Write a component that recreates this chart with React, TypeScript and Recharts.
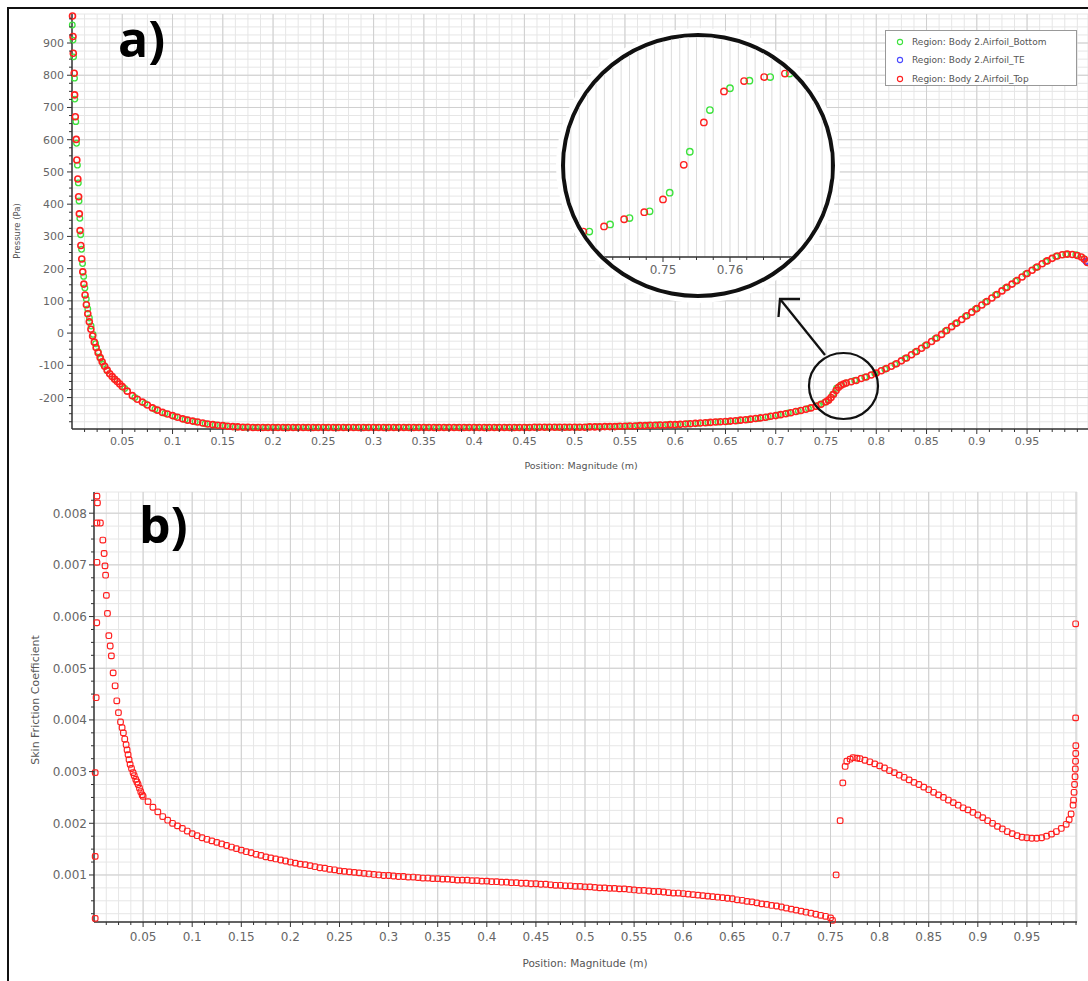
import React from "react";
import {
  CartesianGrid,
  Legend,
  ReferenceLine,
  Scatter,
  ScatterChart,
  XAxis,
  YAxis,
} from "recharts";

// ---- panel a) pressure along the airfoil, position (m) / pressure (Pa)
const pressureBottom: [number, number][] = [
  [0.0003, 956], [0.001, 909], [0.0016, 857], [0.0025, 791], [0.0028, 726], [0.0038, 656],
  [0.0045, 589], [0.0054, 521], [0.0063, 466], [0.007, 410], [0.0078, 356], [0.0086, 305],
  [0.0095, 260], [0.0105, 216], [0.0116, 176], [0.0128, 140], [0.0142, 106], [0.0157, 75],
  [0.0173, 47], [0.019, 22], [0.021, -4], [0.0235, -33], [0.026, -58], [0.0285, -79],
  [0.031, -97], [0.035, -117], [0.0425, -143], [0.0525, -172], [0.0625, -200], [0.0725, -218],
  [0.0825, -236], [0.0925, -249], [0.1025, -259], [0.1125, -268], [0.1225, -275], [0.1325, -281],
  [0.1425, -285], [0.1525, -288], [0.1625, -291], [0.1725, -292], [0.1825, -293], [0.1925, -293],
  [0.2025, -293], [0.2125, -293], [0.2225, -293], [0.2325, -293], [0.2425, -293], [0.2525, -293],
  [0.2625, -293], [0.2725, -293], [0.2825, -293], [0.2925, -293], [0.3025, -293], [0.3125, -293],
  [0.3225, -293], [0.3325, -293], [0.3425, -293], [0.3525, -293], [0.3625, -293], [0.3725, -293],
  [0.3825, -293], [0.3925, -293], [0.4025, -293], [0.4125, -293], [0.4225, -293], [0.4325, -293],
  [0.4425, -293], [0.4525, -293], [0.4625, -292], [0.4725, -292], [0.4825, -292], [0.4925, -292],
  [0.5025, -292], [0.5125, -291], [0.5225, -290], [0.5325, -290], [0.5425, -289], [0.5525, -288],
  [0.5625, -287], [0.5725, -286], [0.5825, -285], [0.5925, -284], [0.6025, -283], [0.6125, -281],
  [0.6225, -280], [0.6325, -278], [0.6425, -276], [0.6525, -274], [0.6625, -272], [0.6725, -269],
  [0.6825, -265], [0.6925, -260], [0.7025, -254], [0.7125, -248], [0.7225, -242], [0.7325, -234],
  [0.7425, -224], [0.7485, -215], [0.7525, -207], [0.7565, -190], [0.7605, -171], [0.7645, -162],
  [0.7705, -155], [0.7785, -147], [0.7885, -137], [0.7985, -125], [0.8085, -112], [0.8185, -97],
  [0.8285, -79], [0.8385, -59], [0.8485, -39], [0.8585, -17], [0.8685, 6], [0.8785, 29],
  [0.8885, 52], [0.8985, 74], [0.9085, 96], [0.9185, 118], [0.9285, 140], [0.9385, 161],
  [0.9485, 183], [0.9585, 203], [0.9685, 222], [0.9785, 238], [0.9885, 245], [0.9985, 243],
  [1.0065, 231],
];

const pressureTE: [number, number][] = [[1.0085, 223], [1.009, 222]];

const pressureTop: [number, number][] = [
  [0.0005, 984], [0.001, 920], [0.0013, 868], [0.0022, 806], [0.0026, 739], [0.0033, 671],
  [0.0042, 601], [0.0048, 537], [0.0058, 478], [0.0066, 423], [0.0073, 370], [0.008, 318],
  [0.0088, 272], [0.0097, 230], [0.0107, 190], [0.0118, 152], [0.013, 118], [0.0143, 88],
  [0.0157, 60], [0.0172, 35], [0.0188, 12], [0.0205, -9], [0.0222, -28], [0.024, -45],
  [0.026, -61], [0.028, -76], [0.03, -89], [0.0325, -103], [0.035, -115], [0.0375, -126],
  [0.04, -135], [0.0425, -143], [0.045, -150], [0.0475, -158], [0.05, -166], [0.055, -180],
  [0.06, -194], [0.065, -205], [0.07, -214], [0.075, -223], [0.08, -232], [0.085, -239],
  [0.09, -246], [0.095, -251], [0.1, -256], [0.105, -261], [0.11, -266], [0.115, -270],
  [0.12, -273], [0.125, -276], [0.13, -279], [0.135, -282], [0.14, -284], [0.145, -286],
  [0.15, -287], [0.155, -289], [0.16, -290], [0.165, -291], [0.17, -292], [0.175, -292],
  [0.18, -293], [0.185, -293], [0.19, -293], [0.195, -293], [0.2, -293], [0.205, -293],
  [0.21, -293], [0.215, -293], [0.22, -293], [0.225, -293], [0.23, -293], [0.235, -293],
  [0.24, -293], [0.245, -293], [0.25, -293], [0.255, -293], [0.26, -293], [0.265, -293],
  [0.27, -293], [0.275, -293], [0.28, -293], [0.285, -293], [0.29, -293], [0.295, -293],
  [0.3, -293], [0.305, -293], [0.31, -293], [0.315, -293], [0.32, -293], [0.325, -293],
  [0.33, -293], [0.335, -293], [0.34, -293], [0.345, -293], [0.35, -293], [0.355, -293],
  [0.36, -293], [0.365, -293], [0.37, -293], [0.375, -293], [0.38, -293], [0.385, -293],
  [0.39, -293], [0.395, -293], [0.4, -293], [0.405, -293], [0.41, -293], [0.415, -293],
  [0.42, -293], [0.425, -293], [0.43, -293], [0.435, -293], [0.44, -293], [0.445, -293],
  [0.45, -293], [0.455, -293], [0.46, -292], [0.465, -292], [0.47, -292], [0.475, -292],
  [0.48, -292], [0.485, -292], [0.49, -292], [0.495, -292], [0.5, -292], [0.505, -292],
  [0.51, -292], [0.515, -291], [0.52, -291], [0.525, -291], [0.53, -290], [0.535, -290],
  [0.54, -290], [0.545, -289], [0.55, -289], [0.555, -288], [0.56, -288], [0.565, -287],
  [0.57, -287], [0.575, -286], [0.58, -286], [0.585, -285], [0.59, -285], [0.595, -284],
  [0.6, -284], [0.605, -283], [0.61, -282], [0.615, -281], [0.62, -280], [0.625, -279],
  [0.63, -278], [0.635, -277], [0.64, -276], [0.645, -275], [0.65, -274], [0.655, -273],
  [0.66, -272], [0.665, -270], [0.67, -269], [0.675, -267], [0.68, -265], [0.685, -263],
  [0.69, -261], [0.695, -258], [0.7, -256], [0.705, -253], [0.71, -250], [0.715, -247],
  [0.72, -243], [0.725, -240], [0.73, -236], [0.735, -232], [0.74, -227], [0.745, -221],
  [0.75, -213], [0.7525, -208], [0.755, -200], [0.7575, -190], [0.76, -178], [0.7625, -168],
  [0.765, -162], [0.7675, -158], [0.77, -155], [0.775, -151], [0.78, -147], [0.785, -141],
  [0.79, -136], [0.795, -130], [0.8, -124], [0.805, -117], [0.81, -110], [0.815, -103],
  [0.82, -95], [0.825, -86], [0.83, -77], [0.835, -67], [0.84, -57], [0.845, -47],
  [0.85, -37], [0.855, -26], [0.86, -15], [0.865, -4], [0.87, 8], [0.875, 20],
  [0.88, 31], [0.885, 42], [0.89, 54], [0.895, 65], [0.9, 76], [0.905, 87],
  [0.91, 98], [0.915, 109], [0.92, 120], [0.925, 131], [0.93, 142], [0.935, 152],
  [0.94, 163], [0.945, 174], [0.95, 185], [0.955, 195], [0.96, 205], [0.965, 215],
  [0.97, 224], [0.975, 232], [0.98, 239], [0.985, 243], [0.99, 245], [0.995, 244],
  [1.0, 241], [1.004, 236], [1.007, 229], [1.01, 219],
];

// zoomed inset around the kink at 0.75
const insetBottom: [number, number][] = [
  [0.739, -199.9], [0.7421, -198.1], [0.745, -196.5], [0.748, -194.8], [0.751, -190.1], [0.754, -179.8],
  [0.757, -169.3], [0.76, -163.8], [0.7629, -161.9], [0.766, -161.0], [0.7689, -160.1],
];
const insetTop: [number, number][] = [
  [0.7381, -199.9], [0.7412, -198.6], [0.7442, -196.8], [0.7472, -195.0], [0.75, -191.8], [0.7531, -183.1],
  [0.7561, -172.4], [0.7591, -164.6], [0.7621, -162.0], [0.7651, -161.0], [0.7682, -160.1],
];

// ---- panel b) skin friction coefficient
const skinFriction: [number, number][] = [
  [0.003, 0.00833], [0.0035, 0.0082], [0.003, 0.00781], [0.0065, 0.00781], [0.009, 0.00748],
  [0.003, 0.00705], [0.0103, 0.00722], [0.0112, 0.00698], [0.0118, 0.0068], [0.0126, 0.00641],
  [0.0137, 0.00606], [0.0028, 0.00588], [0.0151, 0.00563], [0.0165, 0.00543], [0.0177, 0.00524],
  [0.0195, 0.00491], [0.0215, 0.00466], [0.0022, 0.00443], [0.0232, 0.00437], [0.0249, 0.00414],
  [0.027, 0.00396], [0.0286, 0.00385], [0.0299, 0.00375], [0.0313, 0.00363], [0.0327, 0.00352],
  [0.0337, 0.00342], [0.0347, 0.00333], [0.0357, 0.00323], [0.0368, 0.00314], [0.0382, 0.00306],
  [0.0398, 0.00298], [0.0012, 0.00298], [0.041, 0.00292], [0.0425, 0.00285], [0.0437, 0.0028],
  [0.0449, 0.00275], [0.0463, 0.00268], [0.0476, 0.00261], [0.049, 0.00255], [0.0012, 0.00136],
  [0.0012, 0.00016],
  [0.05, 0.00252], [0.055, 0.00242], [0.06, 0.00231], [0.065, 0.00222], [0.07, 0.00213],
  [0.075, 0.00206], [0.08, 0.002], [0.085, 0.00195], [0.09, 0.0019], [0.095, 0.00185],
  [0.1, 0.0018], [0.105, 0.00176], [0.11, 0.00172], [0.115, 0.00169], [0.12, 0.00166],
  [0.125, 0.00163], [0.13, 0.0016], [0.135, 0.00157], [0.14, 0.00154], [0.145, 0.00151],
  [0.15, 0.00148], [0.155, 0.00145], [0.16, 0.00143], [0.165, 0.0014], [0.17, 0.00138],
  [0.175, 0.00135], [0.18, 0.00133], [0.185, 0.00131], [0.19, 0.00129], [0.195, 0.00127],
  [0.2, 0.00125], [0.205, 0.00123], [0.21, 0.00121], [0.215, 0.0012], [0.22, 0.00118],
  [0.225, 0.00116], [0.23, 0.00114], [0.235, 0.00113], [0.24, 0.00111], [0.245, 0.0011],
  [0.25, 0.00108], [0.255, 0.00107], [0.26, 0.00106], [0.265, 0.00105], [0.27, 0.00104],
  [0.275, 0.00103], [0.28, 0.00102], [0.285, 0.00101], [0.29, 0.001], [0.295, 0.00099],
  [0.3, 0.00099], [0.305, 0.00098], [0.31, 0.00097], [0.315, 0.00097], [0.32, 0.00096],
  [0.325, 0.00096], [0.33, 0.00095], [0.335, 0.00094], [0.34, 0.00094], [0.345, 0.00093],
  [0.35, 0.00093], [0.355, 0.00092], [0.36, 0.00092], [0.365, 0.00091], [0.37, 0.0009],
  [0.375, 0.0009], [0.38, 0.0009], [0.385, 0.00089], [0.39, 0.00089], [0.395, 0.00088],
  [0.4, 0.00088], [0.405, 0.00087], [0.41, 0.00087], [0.415, 0.00086], [0.42, 0.00086],
  [0.425, 0.00085], [0.43, 0.00085], [0.435, 0.00084], [0.44, 0.00084], [0.445, 0.00083],
  [0.45, 0.00083], [0.455, 0.00082], [0.46, 0.00082], [0.465, 0.00081], [0.47, 0.0008],
  [0.475, 0.0008], [0.48, 0.00079], [0.485, 0.00079], [0.49, 0.00078], [0.495, 0.00078],
  [0.5, 0.00077], [0.505, 0.00077], [0.51, 0.00076], [0.515, 0.00075], [0.52, 0.00075],
  [0.525, 0.00074], [0.53, 0.00074], [0.535, 0.00073], [0.54, 0.00073], [0.545, 0.00072],
  [0.55, 0.00071], [0.555, 0.0007], [0.56, 0.0007], [0.565, 0.00069], [0.57, 0.00068],
  [0.575, 0.00068], [0.58, 0.00067], [0.585, 0.00066], [0.59, 0.00065], [0.595, 0.00065],
  [0.6, 0.00064], [0.605, 0.00063], [0.61, 0.00062], [0.615, 0.00061], [0.62, 0.0006],
  [0.625, 0.00059], [0.63, 0.00058], [0.635, 0.00057], [0.64, 0.00056], [0.645, 0.00055],
  [0.65, 0.00054], [0.655, 0.00052], [0.66, 0.00051], [0.665, 0.00049], [0.67, 0.00048],
  [0.675, 0.00046], [0.68, 0.00044], [0.685, 0.00043], [0.69, 0.00041], [0.695, 0.0004],
  [0.7, 0.00038], [0.705, 0.00036], [0.71, 0.00034], [0.715, 0.00032], [0.72, 0.0003],
  [0.725, 0.00028], [0.73, 0.00026], [0.735, 0.00024], [0.74, 0.00022], [0.745, 0.0002],
  [0.75, 0.00017], [0.752, 0.00012],
  [0.7557, 0.001], [0.7598, 0.00205], [0.7625, 0.00278], [0.7649, 0.0031], [0.7666, 0.0032],
  [0.77, 0.00324], [0.773, 0.00327], [0.777, 0.00326], [0.78, 0.00325], [0.785, 0.00322],
  [0.79, 0.00319], [0.795, 0.00315], [0.8, 0.00311], [0.805, 0.00307], [0.81, 0.00302],
  [0.815, 0.00298], [0.82, 0.00293], [0.825, 0.00289], [0.83, 0.00284], [0.835, 0.00279],
  [0.84, 0.00275], [0.845, 0.0027], [0.85, 0.00265], [0.855, 0.0026], [0.86, 0.00255],
  [0.865, 0.0025], [0.87, 0.00245], [0.875, 0.0024], [0.88, 0.00235], [0.885, 0.0023],
  [0.89, 0.00226], [0.895, 0.00221], [0.9, 0.00216], [0.905, 0.00211], [0.91, 0.00205],
  [0.915, 0.002], [0.92, 0.00194], [0.925, 0.00189], [0.93, 0.00184], [0.935, 0.0018],
  [0.94, 0.00176], [0.945, 0.00173], [0.95, 0.00172], [0.955, 0.00171], [0.96, 0.00171],
  [0.965, 0.00172], [0.97, 0.00175], [0.975, 0.00179], [0.98, 0.00184], [0.985, 0.0019],
  [0.99, 0.00198], [0.993, 0.00207], [0.995, 0.00218], [0.997, 0.00235], [0.9975, 0.00245],
  [0.998, 0.0026], [0.9985, 0.00275], [0.999, 0.0029], [0.9993, 0.00305], [0.9995, 0.0032],
  [0.9997, 0.00335], [0.9998, 0.0035], [0.9996, 0.00404], [0.9996, 0.00586],
];

// tick labels
const positionLabels = [0.05, 0.1, 0.15, 0.2, 0.25, 0.3, 0.35, 0.4, 0.45, 0.5, 0.55, 0.6, 0.65, 0.7, 0.75, 0.8, 0.85, 0.9, 0.95];
const pressureLabels = [-200, -100, 0, 100, 200, 300, 400, 500, 600, 700, 800, 900];
const frictionLabels = [0.001, 0.002, 0.003, 0.004, 0.005, 0.006, 0.007, 0.008];
const insetLabels = [0.75, 0.76];

const NAME_BOTTOM = "Region: Body 2.Airfoil_Bottom";
const NAME_TE = "Region: Body 2.Airfoil_TE";
const NAME_TOP = "Region: Body 2.Airfoil_Top";

const GREEN = "#3ee23e";
const BLUE = "#4a4aff";
const RED = "#ff2020";
const FONT = "DejaVu Sans, sans-serif";

const toPoints = (rows: [number, number][]) => rows.map(([x, y]) => ({ x, y }));

// evenly spaced tick / grid positions
const steps = (from: number, to: number, step: number) => {
  const out: number[] = [];
  for (let i = 0; from + i * step <= to + step / 2; i++) out.push(+(from + i * step).toFixed(7));
  return out;
};

const inList = (v: number, list: number[]) => list.some((m) => Math.abs(m - v) < 1e-7);

const xTick = (labels: number[], fontSize: number, gap: number, markEvery?: number) => (props: any) => {
  const { x, y, payload } = props;
  const v = payload.value;
  const major = inList(v, labels);
  const marked = markEvery ? Math.abs(v / markEvery - Math.round(v / markEvery)) < 1e-4 : true;
  return (
    <g>
      {marked && <line x1={x} x2={x} y1={y} y2={y + (major ? 5 : 3)} stroke="#333" strokeWidth={1} />}
      {major && (
        <text x={x} y={y + gap} textAnchor="middle" fontSize={fontSize} fill="#666" fontFamily={FONT}>
          {String(v)}
        </text>
      )}
    </g>
  );
};

const yTick = (labels: number[], fontSize: number, gap: number) => (props: any) => {
  const { x, y, payload } = props;
  const v = payload.value;
  const major = inList(v, labels);
  return (
    <g>
      <line x1={x} x2={x - (major ? 5 : 3)} y1={y} y2={y} stroke="#333" strokeWidth={1} />
      {major && (
        <text x={x - gap} y={y} dy="0.36em" textAnchor="end" fontSize={fontSize} fill="#666" fontFamily={FONT}>
          {String(v)}
        </text>
      )}
    </g>
  );
};

const ring = (color: string, r: number, w: number) => (p: any) => (
  <circle cx={p.cx} cy={p.cy} r={r} fill="none" stroke={color} strokeWidth={w} />
);

const square = (color: string) => (p: any) => (
  <rect x={p.cx - 2.8} y={p.cy - 2.8} width={5.6} height={5.6} rx={1.7} fill="none" stroke={color} strokeWidth={1.2} />
);

const LegendBox = (props: any) => {
  const items = props.payload || [];
  return (
    <div
      style={{
        width: 192,
        height: 56,
        border: "1.5px solid #999",
        background: "#fff",
        boxSizing: "border-box",
        padding: "2px 0 0 10px",
        fontFamily: FONT,
        fontSize: 9,
        color: "#555",
      }}
    >
      {items.map((it: any) => (
        <div key={it.value} style={{ display: "flex", alignItems: "center", height: 18.3 }}>
          <svg width={8} height={8} style={{ marginRight: 8 }}>
            <circle cx={4} cy={4} r={2.6} fill="none" stroke={it.color} strokeWidth={1.1} />
          </svg>
          <span>{it.value}</span>
        </div>
      ))}
    </div>
  );
};

const gridMinor = "#e6e6e6";
const gridMajor = "#cfcfcf";
const axisLine = { stroke: "#333", strokeWidth: 1.5 };

const xTicksMain = steps(0.0125, 1.0, 0.0125);
const yTicksPressure = steps(-275, 975, 25);
const yTicksFriction = steps(0.00025, 0.00825, 0.00025);
const xTicksInset = steps(0.73625, 0.775, 0.00125);
const yTicksInset = steps(-205, -152.5, 2.5);

const PressureChart = () => (
  <ScatterChart width={1088} height={480} margin={{ top: 14, right: 0, bottom: 0, left: 22 }}>
    <CartesianGrid stroke={gridMinor} />
    {positionLabels.map((v) => (
      <ReferenceLine key={"vx" + v} x={v} stroke={gridMajor} />
    ))}
    {pressureLabels.map((v) => (
      <ReferenceLine key={"hy" + v} y={v} stroke={gridMajor} />
    ))}
    <XAxis
      type="number"
      dataKey="x"
      domain={[0, 1.0106]}
      ticks={xTicksMain}
      interval={0}
      height={51}
      tickSize={0}
      tickMargin={0}
      tickLine={false}
      axisLine={axisLine}
      tick={xTick(positionLabels, 11, 16)}
    />
    <YAxis
      type="number"
      dataKey="y"
      domain={[-297.5, 990]}
      ticks={yTicksPressure}
      interval={0}
      width={50}
      tickSize={0}
      tickMargin={0}
      tickLine={false}
      axisLine={axisLine}
      tick={yTick(pressureLabels, 11, 8)}
    />
    <Scatter name={NAME_BOTTOM} data={toPoints(pressureBottom)} fill={GREEN} shape={ring(GREEN, 2.8, 1.3)} isAnimationActive={false} />
    <Scatter name={NAME_TE} data={toPoints(pressureTE)} fill={BLUE} shape={ring(BLUE, 2.8, 1.3)} isAnimationActive={false} />
    <Scatter name={NAME_TOP} data={toPoints(pressureTop)} fill={RED} shape={ring(RED, 3, 1.6)} isAnimationActive={false} />
    <Legend
      layout="vertical"
      align="center"
      verticalAlign="middle"
      wrapperStyle={{ top: 30, left: 885, width: 192 }}
      content={LegendBox}
    />
  </ScatterChart>
);

const InsetChart = () => (
  <ScatterChart width={266} height={257} margin={{ top: 0, right: 0, bottom: 0, left: 0 }}>
    <CartesianGrid stroke="#dcdcdc" />
    <XAxis
      type="number"
      dataKey="x"
      domain={[0.735373, 0.775075]}
      ticks={xTicksInset}
      interval={0}
      height={37}
      tickSize={0}
      tickMargin={0}
      tickLine={false}
      axisLine={axisLine}
      tick={xTick(insetLabels, 12, 17, 0.0025)}
    />
    <YAxis
      type="number"
      dataKey="y"
      domain={[-206.3, -150.9]}
      ticks={yTicksInset}
      interval={0}
      width={0}
      tick={false}
      tickLine={false}
      axisLine={false}
    />
    <Scatter data={toPoints(insetBottom)} fill={GREEN} shape={ring(GREEN, 3.2, 1.4)} isAnimationActive={false} />
    <Scatter data={toPoints(insetTop)} fill={RED} shape={ring(RED, 3.2, 1.4)} isAnimationActive={false} />
  </ScatterChart>
);

const FrictionChart = () => (
  <ScatterChart width={1088} height={500} margin={{ top: 12, right: 11, bottom: 0, left: 34 }}>
    <CartesianGrid stroke={gridMinor} />
    {positionLabels.map((v) => (
      <ReferenceLine key={"vx" + v} x={v} stroke={gridMajor} />
    ))}
    <ReferenceLine x={1.0} stroke={gridMajor} />
    {frictionLabels.map((v) => (
      <ReferenceLine key={"hy" + v} y={v} stroke={gridMajor} />
    ))}
    <XAxis
      type="number"
      dataKey="x"
      domain={[0, 1.001]}
      ticks={xTicksMain}
      interval={0}
      height={58}
      tickSize={0}
      tickMargin={0}
      tickLine={false}
      axisLine={axisLine}
      tick={xTick(positionLabels, 12, 19)}
    />
    <YAxis
      type="number"
      dataKey="y"
      domain={[0.00009, 0.00841]}
      ticks={yTicksFriction}
      interval={0}
      width={60}
      tickSize={0}
      tickMargin={0}
      tickLine={false}
      axisLine={axisLine}
      tick={yTick(frictionLabels, 12, 7)}
    />
    <Scatter data={toPoints(skinFriction)} fill={RED} shape={square(RED)} isAnimationActive={false} />
  </ScatterChart>
);

export default function App() {
  return (
    <div style={{ position: "absolute", left: 0, top: 0, width: 1088, height: 981, overflow: "hidden", background: "#fff" }}>
      <div style={{ position: "absolute", left: 0, top: 0 }}>
        <PressureChart />
      </div>
      <div style={{ position: "absolute", left: 0, top: 480 }}>
        <FrictionChart />
      </div>
      <div
        style={{
          position: "absolute",
          left: 561,
          top: 33,
          width: 266,
          height: 257,
          border: "4px solid #111",
          borderRadius: "50%",
          overflow: "hidden",
          background: "#fff",
          boxShadow: "0 0 0 5px #fff",
        }}
      >
        <InsetChart />
      </div>
      <svg width={1088} height={981} style={{ position: "absolute", left: 0, top: 0, pointerEvents: "none" }}>
        <rect x={7} y={7} width={1090} height={2} fill="#111" />
        <rect x={7} y={7} width={2} height={980} fill="#111" />
        <ellipse cx={843.5} cy={386} rx={34.5} ry={33} fill="none" stroke="#111" strokeWidth={2.2} />
        <line x1={825} y1={355} x2={780} y2={299} stroke="#111" strokeWidth={2.3} />
        <polyline points="800,299 780,299 778.5,317" fill="none" stroke="#111" strokeWidth={2.3} />
        <text x={118} y={57} fontSize={50} fontWeight={700} fontFamily="Open Sans, sans-serif" fill="#000">
          a)
        </text>
        <text x={139} y={543} fontSize={50} fontWeight={700} fontFamily="Open Sans, sans-serif" fill="#000">
          b)
        </text>
        <text transform="translate(20,231) rotate(-90)" textAnchor="middle" fontSize={8.5} fill="#555" fontFamily={FONT}>
          Pressure (Pa)
        </text>
        <text x={581} y={469} textAnchor="middle" fontSize={9.5} fill="#555" fontFamily={FONT}>
          Position: Magnitude (m)
        </text>
        <text transform="translate(39,700) rotate(-90)" textAnchor="middle" fontSize={11} fill="#555" fontFamily={FONT}>
          Skin Friction Coefficient
        </text>
        <text x={585} y={967} textAnchor="middle" fontSize={10.5} fill="#555" fontFamily={FONT}>
          Position: Magnitude (m)
        </text>
      </svg>
    </div>
  );
}
